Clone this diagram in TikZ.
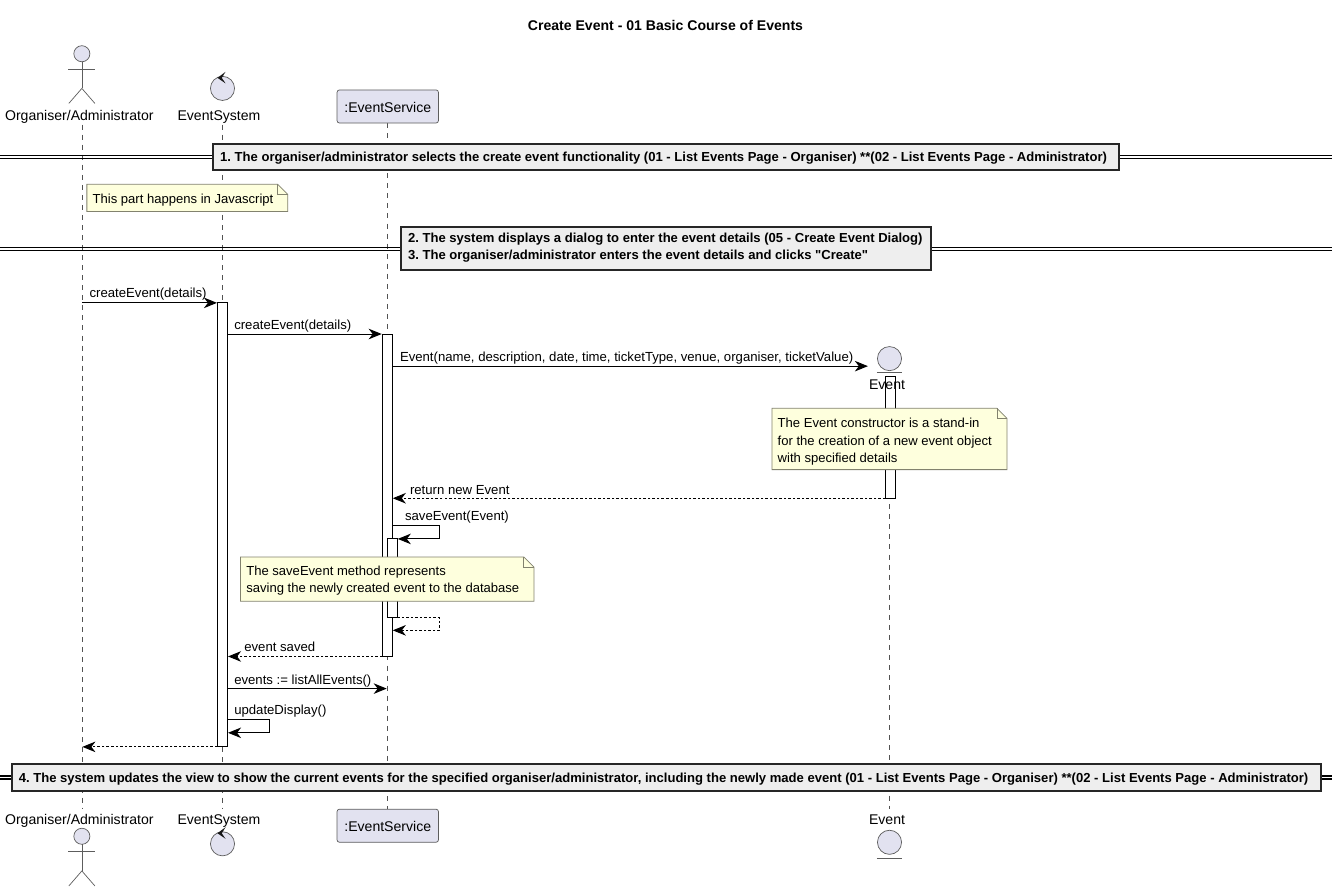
\documentclass[tikz,border=0pt]{standalone}
\usepackage{fontspec}
\setmainfont{Liberation Sans}[Ligatures=TeXOff]
\usetikzlibrary{arrows.meta}
\definecolor{partfill}{RGB}{226,226,240}
\definecolor{partline}{RGB}{24,24,24}
\definecolor{notefill}{RGB}{254,255,221}
\definecolor{noteline}{RGB}{130,130,110}
\definecolor{divfill}{RGB}{238,238,238}
\tikzset{
  lifeline/.style={partline!75,line width=0.7pt,dash pattern=on 5pt off 5pt},
  partshape/.style={draw=partline!70,fill=partfill,line width=0.7pt},
  activation/.style={draw=black,fill=white,line width=1pt},
  msg/.style={black,line width=1pt,-{Stealth[length=13pt,width=10.5pt,inset=4pt]}},
  reply/.style={msg,dash pattern=on 2.5pt off 2pt},
  msglabel/.style={anchor=base west,inner sep=0pt,font=\fontsize{13.1}{13}\selectfont},
  partlabel/.style={anchor=base,inner sep=0pt,font=\fontsize{14}{14}\selectfont},
  notebox/.style={draw=noteline,fill=notefill,line width=0.8pt},
  notetext/.style={anchor=base west,inner sep=0pt,font=\fontsize{13}{13}\selectfont},
  divider/.style={draw=black!85,fill=divfill,line width=2pt},
  divlabel/.style={anchor=base west,inner sep=0pt,align=left,font=\fontsize{13}{16.5}\selectfont\bfseries\frenchspacing},
  divline/.style={black,line width=1.2pt}
}
\begin{document}
\begin{tikzpicture}[x=1pt,y=-1pt]
\useasboundingbox (0,0) rectangle (1326,883);

% lifelines
\draw[lifeline] (81.5,124) -- (81.5,805);
\draw[lifeline] (221.5,124) -- (221.5,805);
\draw[lifeline] (385.5,122.5) -- (385.5,805.5);
\draw[lifeline] (885.5,392) -- (885.5,805);

\node[anchor=base,inner sep=0pt,font=\fontsize{14}{14}\selectfont\bfseries] (title) at (662.5,30) {Create Event - 01 Basic Course of Events};

% actors, top and bottom
\foreach \y in {53.5,832.5}{
  \draw[partshape] (81.5,\y) circle (8);
  \draw[partline!70,line width=0.7pt] (81.5,\y+8) -- (81.5,\y+34.5);
  \draw[partline!70,line width=0.7pt] (68,\y+15.5) -- (95,\y+15.5);
  \draw[partline!70,line width=0.7pt] (68.5,\y+49.5) -- (81.5,\y+34.5) -- (94.5,\y+49.5);
}
\foreach \y in {88,840}{
  \draw[partshape] (221.5,\y) circle (12);
  \fill[partline] (224.5,\y-16.5) -- (216.5,\y-10.5) -- (224.5,\y-5) -- (220.8,\y-10.5) -- cycle;
}
\draw[partshape,rounded corners=2.5pt] (335.5,89.5) rectangle (436.5,122.5);
\draw[partshape,rounded corners=2.5pt] (335.5,805.5) rectangle (436.5,838.5);
\node[partlabel] (serviceTop) at (386,111.5) {:EventService};
\node[partlabel] (serviceBot) at (386,827.5) {:EventService};
\node[partlabel] (actorTop) at (79,120) {Organiser/Administrator};
\node[partlabel] (actorBot) at (79,821) {Organiser/Administrator};
\node[partlabel] (systemTop) at (218,120) {EventSystem};
\node[partlabel] (systemBot) at (218,821) {EventSystem};

% entity
\draw[partshape] (885.5,357) circle (12);
\draw[partline!70,line width=0.7pt] (873,370.5) -- (898,370.5);
\draw[partshape] (885.5,838.5) circle (12);
\draw[partline!70,line width=0.7pt] (873,854) -- (898,854);
\node[partlabel] (eventBot) at (883,821) {Event};

% activation bars
\draw[activation] (216.5,301.5) rectangle (226.5,743.5);
\draw[activation] (380.5,333) rectangle (390.5,653.5);
\draw[activation] (385.5,536.5) rectangle (395.5,615);
\draw[activation] (881.5,374.5) rectangle (891.5,496);
\node[partlabel] (eventTop) at (883,388) {Event};

% messages
\coordinate (m1a) at (81.5,301.5);
\coordinate (m1b) at (216,301.5);
\coordinate (m2a) at (226.5,332.5);
\coordinate (m2b) at (380,332.5);
\coordinate (m3a) at (390.5,364.5);
\coordinate (m3b) at (864,364.5);
\coordinate (m4a) at (881.5,496);
\coordinate (m4b) at (391,496);
\coordinate (m5a) at (380.5,653.5);
\coordinate (m5b) at (227,653.5);
\coordinate (m6a) at (226.5,685.5);
\coordinate (m6b) at (385,685.5);
\coordinate (m7a) at (216.5,743.5);
\coordinate (m7b) at (82,743.5);

\draw[msg] (m1a) -- (m1b);
\draw[msg] (m2a) -- (m2b);
\draw[msg] (m3a) -- (m3b);
\draw[reply] (m4a) -- (m4b);
\draw[reply] (m5a) -- (m5b);
\draw[msg] (m6a) -- (m6b);
\draw[reply] (m7a) -- (m7b);
\draw[msg] (390.5,523.5) -- (437.5,523.5) -- (437.5,536.5) -- (396,536.5);
\draw[reply] (395.5,615) -- (437.5,615) -- (437.5,627.5) -- (391,627.5);
\draw[msg] (226.5,716.5) -- (268.5,716.5) -- (268.5,729.5) -- (227,729.5);

\node[msglabel] (l1) at (89,296) {createEvent(details)};
\node[msglabel] (l2) at (233,328) {createEvent(details)};
\node[msglabel] (l3) at (398,360) {Event(name, description, date, time, ticketType, venue, organiser, ticketValue)};
\node[msglabel] (l4) at (408,492) {return new Event};
\node[msglabel] (l5) at (403,518) {saveEvent(Event)};
\node[msglabel] (l6) at (243,649) {event saved};
\node[msglabel] (l7) at (233,681) {events := listAllEvents()};
\node[msglabel] (l8) at (233,711.5) {updateDisplay()};

% notes
\draw[notebox] (86.5,183.5) -- (276.5,183.5) -- (286.5,193.5) -- (286.5,210.5) -- (86.5,210.5) -- cycle;
\draw[notebox,fill=none] (276.5,183.5) -- (276.5,193.5) -- (286.5,193.5);
\node[notetext] (note1) at (92,203) {This part happens in Javascript};

\draw[notebox] (768.5,406.5) -- (992.5,406.5) -- (1002.5,416.5) -- (1002.5,467.5) -- (768.5,467.5) -- cycle;
\draw[notebox,fill=none] (992.5,406.5) -- (992.5,416.5) -- (1002.5,416.5);
\node[notetext] (note2a) at (774,426) {The Event constructor is a stand-in};
\node[notetext] (note2b) at (774,443) {for the creation of a new event object};
\node[notetext] (note2c) at (774,460) {with specified details};

\draw[notebox] (239.5,554.5) -- (521.5,554.5) -- (531.5,564.5) -- (531.5,598.5) -- (239.5,598.5) -- cycle;
\draw[notebox,fill=none] (521.5,554.5) -- (521.5,564.5) -- (531.5,564.5);
\node[notetext] (note3a) at (245,573) {The saveEvent method represents};
\node[notetext] (note3b) at (245,590) {saving the newly created event to the database};

% dividers
\foreach \y/\a/\b in {155/212.5/1114,246/399.5/927,772.5/12/1315}{
  \draw[divline] (0,\y) -- (\a,\y);
  \draw[divline] (0,\y+3) -- (\a,\y+3);
  \draw[divline] (\b,\y) -- (1326,\y);
  \draw[divline] (\b,\y+3) -- (1326,\y+3);
}
\draw[divider] (212.5,143.5) rectangle (1114,169);
\node[divlabel] (div1) at (219,161) {1. The organiser/administrator selects the create event functionality (01 - List Events Page - Organiser) **(02 - List Events Page - Administrator)};
\draw[divider] (399.5,225.5) rectangle (927,268.5);
\node[divlabel,anchor=north west] (div2) at (406,232) {2. The system displays a dialog to enter the event details (05 - Create Event Dialog)\\3. The organiser/administrator enters the event details and clicks "Create"};
\draw[divider] (12,761) rectangle (1315,787);
\node[divlabel] (div4) at (18.5,779) {4. The system updates the view to show the current events for the specified organiser/administrator, including the newly made event (01 - List Events Page - Organiser) **(02 - List Events Page - Administrator)};
\end{tikzpicture}
\end{document}
